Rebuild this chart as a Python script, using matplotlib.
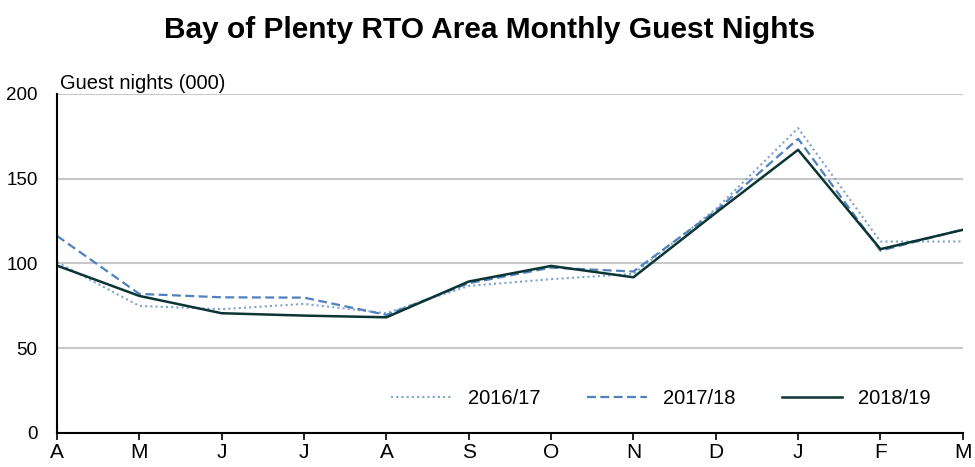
import matplotlib
matplotlib.use('Agg')
from matplotlib import pyplot as plt

plt.rcParams['font.family'] = ['Liberation Sans', 'DejaVu Sans']

# Monthly guest nights (000), April to March
months = ['A', 'M', 'J', 'J', 'A', 'S', 'O', 'N', 'D', 'J', 'F', 'M']
y2016_17 = [100.7, 74.9, 73.0, 76.1, 70.6, 86.7, 90.7, 93.8, 132.0, 179.8, 112.9, 112.9]
y2017_18 = [116.2, 82.0, 80.0, 79.8, 69.6, 88.3, 97.5, 95.2, 131.0, 173.5, 107.5, 120.0]
y2018_19 = [98.7, 80.8, 70.6, 69.2, 68.2, 89.3, 98.5, 91.8, 129.8, 167.0, 108.4, 119.8]

x = list(range(len(months)))

fig = plt.figure(figsize=(9.75, 4.67), dpi=100)
ax = fig.add_axes([0.0585, 0.073, 0.929, 0.726])

ax.plot(x, y2016_17, color='#7fa3d3', linestyle=(0, (1, 1.5)), linewidth=1.5, label='2016/17')
ax.plot(x, y2017_18, color='#4f81bd', linestyle=(0, (4, 2)), linewidth=1.6, label='2017/18')
ax.plot(x, y2018_19, color='#0b3532', linestyle='-', linewidth=1.8, label='2018/19')

ax.set_xlim(0, 11)
ax.set_ylim(0, 200)
ax.set_yticks([0, 50, 100, 150, 200])
ax.set_xticks(x)
ax.set_xticklabels(months)
ax.tick_params(axis='y', length=0, labelsize=13.5, pad=14)
ax.tick_params(axis='x', length=5, width=1.2, direction='out', labelsize=15, pad=2)
ax.yaxis.grid(True, color='#c8c8c8', linewidth=1.5)
ax.set_axisbelow(True)

for s in ['top', 'right']:
    ax.spines[s].set_visible(False)
ax.spines['left'].set_linewidth(1.5)
ax.spines['bottom'].set_linewidth(1.5)

ax.text(0.003, 1.003, 'Guest nights (000)', transform=ax.transAxes, fontsize=14.5, va='bottom', ha='left')

fig.suptitle('Bay of Plenty RTO Area Monthly Guest Nights', fontsize=21.5, fontweight='bold', x=0.502, y=0.965)

ax.legend(loc='lower right', ncol=3, frameon=False, fontsize=14.5, handlelength=3.0,
          columnspacing=2.3, bbox_to_anchor=(0.985, 0.02))

plt.savefig('out.png', dpi=100)
